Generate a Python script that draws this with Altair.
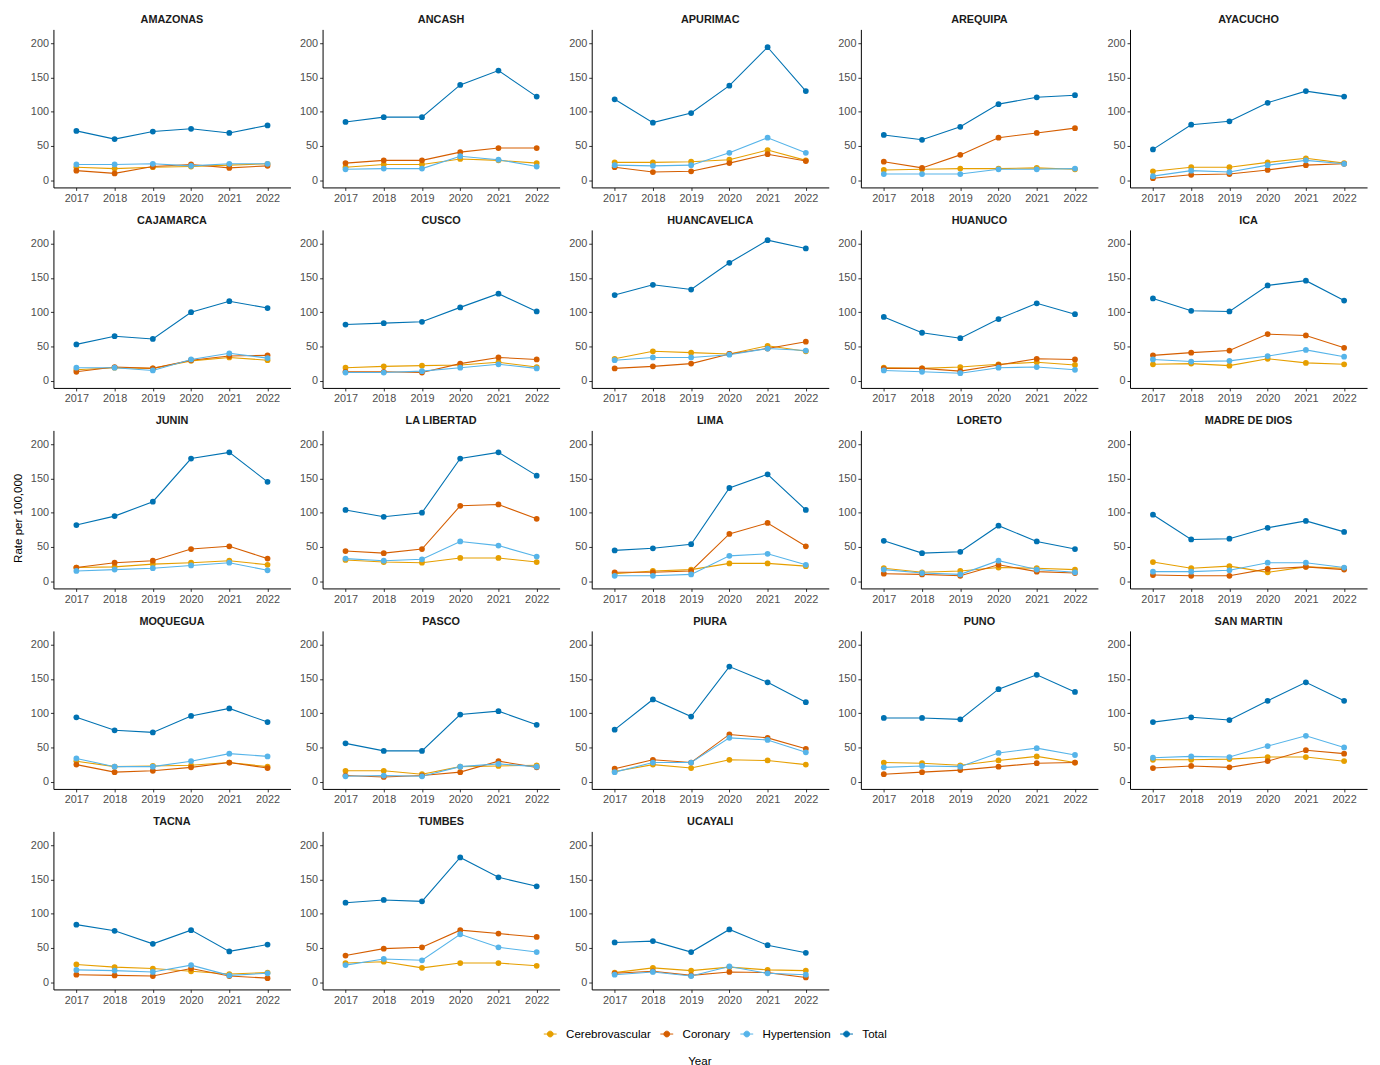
import altair as alt
import pandas as pd

years = [2017, 2018, 2019, 2020, 2021, 2022]
regions = ["AMAZONAS", "ANCASH", "APURIMAC", "AREQUIPA", "AYACUCHO",
           "CAJAMARCA", "CUSCO", "HUANCAVELICA", "HUANUCO", "ICA",
           "JUNIN", "LA LIBERTAD", "LIMA", "LORETO", "MADRE DE DIOS",
           "MOQUEGUA", "PASCO", "PIURA", "PUNO", "SAN MARTIN",
           "TACNA", "TUMBES", "UCAYALI"]
series = ["Cerebrovascular", "Coronary", "Hypertension", "Total"]
colors = ["#E69F00", "#D55E00", "#56B4E9", "#0072B2"]

cerebrovascular = {
    "AMAZONAS": [19, 17, 19, 20, 22, 24],
    "ANCASH": [19, 23, 23, 31, 29, 25],
    "APURIMAC": [26, 26, 27, 30, 44, 29],
    "AREQUIPA": [15, 16, 17, 17, 18, 16],
    "AYACUCHO": [13, 19, 19, 26, 32, 25],
    "CAJAMARCA": [16, 19, 18, 29, 34, 30],
    "CUSCO": [19, 21, 22, 23, 27, 20],
    "HUANCAVELICA": [32, 43, 41, 39, 51, 43],
    "HUANUCO": [19, 18, 20, 24, 27, 23],
    "ICA": [24, 25, 22, 32, 26, 24],
    "JUNIN": [20, 21, 25, 27, 30, 24],
    "LA LIBERTAD": [31, 28, 27, 34, 34, 28],
    "LIMA": [11, 15, 17, 26, 26, 22],
    "LORETO": [19, 13, 15, 20, 19, 17],
    "MADRE DE DIOS": [28, 19, 22, 13, 21, 19],
    "MOQUEGUA": [30, 22, 23, 24, 28, 22],
    "PASCO": [16, 16, 11, 22, 23, 24],
    "PIURA": [15, 25, 20, 32, 31, 25],
    "PUNO": [28, 27, 24, 31, 37, 28],
    "SAN MARTIN": [32, 32, 33, 36, 36, 30],
    "TACNA": [26, 22, 20, 16, 12, 14],
    "TUMBES": [28, 30, 21, 28, 28, 24],
    "UCAYALI": [14, 21, 17, 22, 18, 17],
}
coronary = {
    "AMAZONAS": [14, 10, 20, 23, 18, 21],
    "ANCASH": [25, 29, 29, 41, 47, 47],
    "APURIMAC": [19, 12, 13, 25, 38, 28],
    "AREQUIPA": [27, 18, 37, 62, 69, 76],
    "AYACUCHO": [3, 8, 9, 15, 22, 24],
    "CAJAMARCA": [13, 20, 18, 30, 36, 37],
    "CUSCO": [13, 13, 12, 25, 34, 31],
    "HUANCAVELICA": [18, 21, 25, 39, 47, 57],
    "HUANUCO": [18, 18, 14, 23, 32, 31],
    "ICA": [37, 41, 44, 68, 66, 48],
    "JUNIN": [20, 27, 30, 47, 51, 33],
    "LA LIBERTAD": [44, 41, 47, 110, 112, 91],
    "LIMA": [13, 13, 15, 69, 85, 51],
    "LORETO": [11, 10, 8, 24, 14, 12],
    "MADRE DE DIOS": [9, 8, 8, 18, 21, 17],
    "MOQUEGUA": [25, 14, 16, 21, 28, 20],
    "PASCO": [9, 7, 9, 14, 30, 21],
    "PIURA": [19, 32, 28, 69, 64, 48],
    "PUNO": [11, 14, 17, 22, 27, 28],
    "SAN MARTIN": [20, 23, 21, 30, 46, 41],
    "TACNA": [11, 10, 9, 20, 9, 6],
    "TUMBES": [39, 49, 51, 76, 71, 66],
    "UCAYALI": [13, 16, 10, 15, 14, 7],
}
hypertension = {
    "AMAZONAS": [23, 23, 24, 21, 24, 24],
    "ANCASH": [16, 17, 17, 35, 30, 20],
    "APURIMAC": [22, 21, 22, 40, 62, 40],
    "AREQUIPA": [9, 9, 9, 16, 16, 17],
    "AYACUCHO": [6, 14, 12, 22, 29, 24],
    "CAJAMARCA": [19, 19, 15, 31, 40, 33],
    "CUSCO": [12, 12, 14, 19, 24, 18],
    "HUANCAVELICA": [30, 34, 34, 38, 47, 44],
    "HUANUCO": [15, 13, 11, 19, 20, 16],
    "ICA": [31, 28, 29, 36, 45, 35],
    "JUNIN": [15, 17, 19, 23, 27, 16],
    "LA LIBERTAD": [33, 30, 32, 58, 52, 36],
    "LIMA": [8, 8, 10, 37, 40, 24],
    "LORETO": [17, 12, 10, 30, 17, 13],
    "MADRE DE DIOS": [14, 14, 16, 27, 27, 20],
    "MOQUEGUA": [34, 22, 22, 30, 41, 37],
    "PASCO": [8, 9, 8, 22, 26, 22],
    "PIURA": [14, 28, 28, 64, 61, 43],
    "PUNO": [21, 23, 22, 42, 49, 39],
    "SAN MARTIN": [35, 37, 36, 52, 67, 50],
    "TACNA": [18, 17, 15, 25, 10, 13],
    "TUMBES": [25, 34, 32, 70, 51, 44],
    "UCAYALI": [11, 15, 9, 23, 13, 11],
}
total = {
    "AMAZONAS": [72, 60, 71, 75, 69, 80],
    "ANCASH": [85, 92, 92, 139, 160, 122],
    "APURIMAC": [118, 84, 98, 138, 194, 130],
    "AREQUIPA": [66, 59, 78, 111, 121, 124],
    "AYACUCHO": [45, 81, 86, 113, 130, 122],
    "CAJAMARCA": [53, 65, 61, 100, 116, 106],
    "CUSCO": [82, 84, 86, 107, 127, 101],
    "HUANCAVELICA": [125, 140, 133, 172, 205, 193],
    "HUANUCO": [93, 70, 62, 90, 113, 97],
    "ICA": [120, 102, 101, 139, 146, 117],
    "JUNIN": [82, 95, 116, 179, 188, 145],
    "LA LIBERTAD": [104, 94, 100, 179, 188, 154],
    "LIMA": [45, 48, 54, 136, 156, 104],
    "LORETO": [59, 41, 43, 81, 58, 47],
    "MADRE DE DIOS": [97, 61, 62, 78, 88, 72],
    "MOQUEGUA": [94, 75, 72, 96, 107, 87],
    "PASCO": [56, 45, 45, 98, 103, 83],
    "PIURA": [76, 120, 95, 168, 145, 116],
    "PUNO": [93, 93, 91, 135, 156, 131],
    "SAN MARTIN": [87, 94, 90, 118, 145, 118],
    "TACNA": [84, 75, 56, 76, 45, 55],
    "TUMBES": [116, 120, 118, 182, 153, 140],
    "UCAYALI": [58, 60, 44, 77, 54, 43],
}

series_data = dict(zip(series, [cerebrovascular, coronary, hypertension, total]))
rows = []
for s in series:
    for r in regions:
        for yr, v in zip(years, series_data[s][r]):
            rows.append({"region": r, "series": s, "year": yr, "rate": v})
df = pd.DataFrame(rows)

FONT = "Liberation Sans"
SYMBOL = "M-1,0L1,0M0.45,0A0.45,0.45,0,1,1,-0.45,0A0.45,0.45,0,1,1,0.45,0Z"

x_enc = alt.X("year:Q",
              scale=alt.Scale(domain=[2016.4, 2022.6], nice=False, zero=False),
              axis=alt.Axis(values=years, format="d", title=None))
y_enc = alt.Y("rate:Q",
              scale=alt.Scale(domain=[-10.5, 220], nice=False, zero=False),
              axis=alt.Axis(values=[0, 50, 100, 150, 200], title=None))
color_enc = alt.Color(
    "series:N",
    scale=alt.Scale(domain=series, range=colors),
    legend=alt.Legend(title=None, orient="none", direction="horizontal",
                      legendX=541, legendY=1010, symbolType=SYMBOL,
                      symbolSize=169, symbolStrokeWidth=1,
                      labelFontSize=11.7, labelColor="black", labelOffset=9,
                      columnPadding=7, padding=0),
)

line = alt.Chart().mark_line(strokeWidth=1.1).encode(x=x_enc, y=y_enc, color=color_enc)
pts = alt.Chart().mark_circle(size=34, opacity=1).encode(x=x_enc, y=y_enc, color=color_enc)

panel = alt.layer(line, pts, data=df).properties(width=240, height=160)

fac = panel.facet(
    facet=alt.Facet("region:N", sort=regions, title=None,
                    header=alt.Header(labelFontWeight="bold", labelFontSize=11,
                                      labelColor="#1A1A1A", labelPadding=4,
                                      labelFont=FONT)),
    columns=5,
    spacing={"row": 12, "column": 8.5},
).resolve_axis(x="independent", y="independent")

ytitle = alt.Chart(pd.DataFrame({"t": ["Rate per 100,000"]})).mark_text(
    angle=270, fontSize=11.7, color="black", font=FONT
).encode(text="t:N", x=alt.value(9), y=alt.value(495)).properties(width=18, height=960)

chart = alt.hconcat(ytitle, fac, spacing=3).properties(
    padding={"left": 1, "top": 0, "right": 5, "bottom": 5},
    title=alt.Title("Year", orient="bottom", anchor="middle", fontSize=11.7,
                    fontWeight="normal", color="black", font=FONT, offset=15, dx=12)
).configure(font=FONT).configure_view(stroke=None).configure_axis(
    domainColor="black", domainWidth=1, tickColor="#333333", tickSize=3,
    labelColor="#4D4D4D", labelFontSize=11, labelPadding=2, grid=False,
    labelFont=FONT,
)

chart.save("out.html", embed_options={"renderer": "svg", "actions": False})
